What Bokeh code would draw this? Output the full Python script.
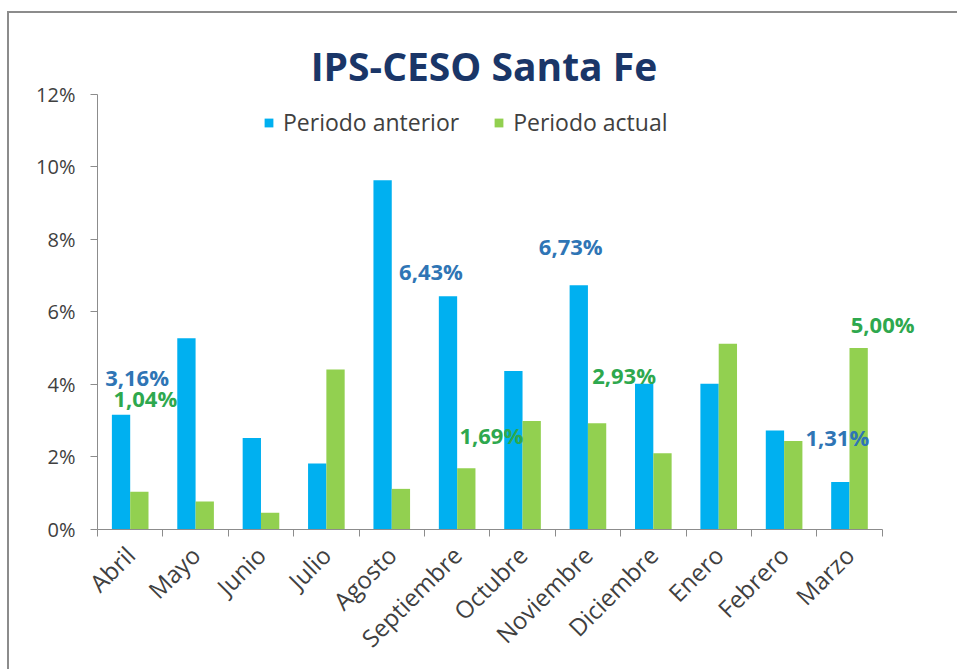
from bokeh.plotting import figure
from bokeh.models import (ColumnDataSource, Range1d, FixedTicker, PrintfTickFormatter,
                          Legend, LegendItem)
from bokeh.core.properties import value
from bokeh.embed import file_html
from bokeh.resources import INLINE
import math

# ---- data ----
months = ["Abril", "Mayo", "Junio", "Julio", "Agosto", "Septiembre",
          "Octubre", "Noviembre", "Diciembre", "Enero", "Febrero", "Marzo"]
periodo_anterior = [3.16, 5.27, 2.52, 1.82, 9.63, 6.43, 4.37, 6.73, 4.02, 4.02, 2.73, 1.31]
periodo_actual = [1.04, 0.77, 0.46, 4.41, 1.12, 1.69, 2.99, 2.93, 2.10, 5.12, 2.44, 5.00]
y_ticks = [0, 2, 4, 6, 8, 10, 12]
title_text = "IPS-CESO Santa Fe"
series_names = ["Periodo anterior", "Periodo actual"]

# labelled bars: (month, series index)
label_months = ["Abril", "Abril", "Septiembre", "Septiembre", "Noviembre", "Noviembre", "Marzo", "Marzo"]
label_series = [0, 1, 0, 1, 0, 1, 0, 1]
# manual label placement (pixels, relative to bar top)
label_dx = [16, 6, -17, 25, -8, 27, -3, 24]
label_dy = [-38, -94, -25, -33, -39, -48, -45, -24]

BLUE = "#00B0F0"
GREEN = "#92D050"
LBL_BLUE = "#2F75B5"
LBL_GREEN = "#2EA84E"
FONT = "Open Sans"
TXT = "#404040"
AXC = "#8c8c8c"

n = len(months)
bw = 0.28
xs_a = [i + 0.5 - bw / 2 for i in range(n)]
xs_b = [i + 0.5 + bw / 2 for i in range(n)]

src_a = ColumnDataSource(dict(x=xs_a, top=periodo_anterior))
src_b = ColumnDataSource(dict(x=xs_b, top=periodo_actual))

p = figure(width=950, height=658, output_backend="svg", toolbar_location=None,
           x_range=Range1d(0, 12.8), y_range=Range1d(0, 13.7),
           min_border_left=88, min_border_right=25, min_border_top=19, min_border_bottom=142)
p.styles = {"border-left": "2px solid #8c8c8c", "border-top": "2px solid #8c8c8c",
            "margin-left": "7px", "margin-top": "11px"}
p.outline_line_color = None
p.xgrid.visible = False
p.ygrid.visible = False
p.background_fill_color = "white"
p.border_fill_color = "white"

ra = p.vbar(x="x", top="top", width=bw, source=src_a, color=BLUE, line_color=None)
rb = p.vbar(x="x", top="top", width=bw, source=src_b, color=GREEN, line_color=None)

# data labels
lx, ly, lt, lc = [], [], [], []
for m, s in zip(label_months, label_series):
    i = months.index(m)
    vals = periodo_anterior if s == 0 else periodo_actual
    v = vals[i]
    lx.append(xs_a[i] if s == 0 else xs_b[i])
    ly.append(v)
    lt.append(f"{v:.2f}".replace(".", ",") + "%")
    lc.append(LBL_BLUE if s == 0 else LBL_GREEN)
lsrc = ColumnDataSource(dict(x=lx, y=ly, text=lt, color=lc, dx=label_dx, dy=label_dy))
p.text(x="x", y="y", text="text", source=lsrc, text_color="color", x_offset="dx", y_offset="dy",
       text_font=value(FONT), text_font_style="bold", text_font_size="22px",
       text_align="center", text_baseline="middle")

# title (drawn inside the extended frame, above the 12% line)
p.text(x=[n / 2 - 0.09], y=[12.8], text=[title_text], text_font=value(FONT),
       text_font_style="bold", text_font_size="39px", text_color="#1A3668",
       text_align="center", text_baseline="middle")

# axes
xa = p.xaxis[0]
xa.bounds = (0, n)
xa.ticker = FixedTicker(ticks=[i + 0.5 for i in range(n)], minor_ticks=list(range(n + 1)))
xa.major_label_overrides = {i + 0.5: m for i, m in enumerate(months)}
xa.major_tick_line_color = None
xa.minor_tick_line_color = AXC
xa.minor_tick_in = 0
xa.minor_tick_out = 7
xa.axis_line_color = AXC
xa.major_label_orientation = math.pi / 4
xa.major_label_text_font = FONT
xa.major_label_text_font_size = "24px"
xa.major_label_text_color = TXT
xa.major_label_standoff = 14

ya = p.yaxis[0]
ya.bounds = (0, 12)
ya.ticker = FixedTicker(ticks=y_ticks, minor_ticks=[])
ya.formatter = PrintfTickFormatter(format="%d%%")
ya.major_tick_in = 0
ya.major_tick_out = 7
ya.major_tick_line_color = AXC
ya.axis_line_color = AXC
ya.minor_tick_line_color = None
ya.major_label_text_font = FONT
ya.major_label_text_font_size = "20px"
ya.major_label_text_color = TXT
ya.major_label_standoff = 15

# legend
legend = Legend(items=[LegendItem(label=series_names[0], renderers=[ra]),
                       LegendItem(label=series_names[1], renderers=[rb])],
                orientation="horizontal", location=(166, 391),
                glyph_width=11, glyph_height=11, label_standoff=9, spacing=34,
                label_text_font=FONT, label_text_font_size="23px", label_text_color=TXT,
                border_line_color=None, background_fill_alpha=0, padding=0, margin=0)
p.add_layout(legend, "center")

open("out.html", "w").write(file_html(p, INLINE))
